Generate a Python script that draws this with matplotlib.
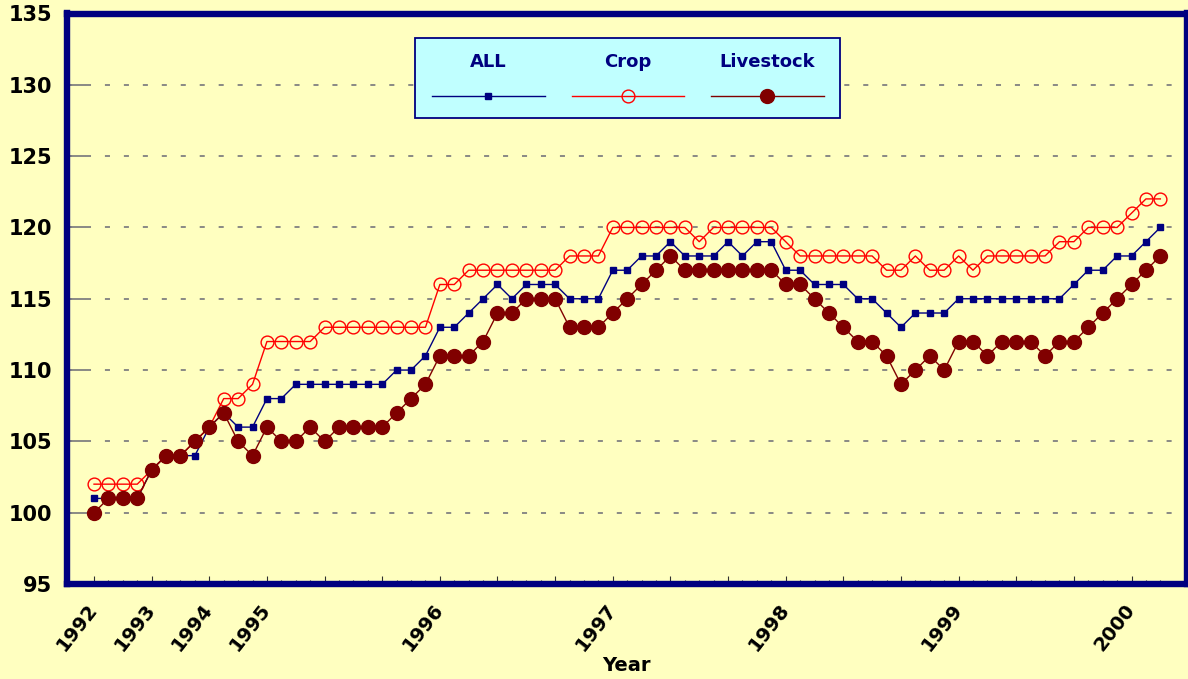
import matplotlib
matplotlib.use("Agg")
import matplotlib.pyplot as plt
from matplotlib.lines import Line2D
from matplotlib.patches import Rectangle

# index values (75 periods)
all_index = [
    101, 101, 101, 101, 103, 104, 104, 104, 106, 107, 106, 106, 108, 108, 109,
    109, 109, 109, 109, 109, 109, 110, 110, 111, 113, 113, 114, 115, 116, 115,
    116, 116, 116, 115, 115, 115, 117, 117, 118, 118, 119, 118, 118, 118, 119,
    118, 119, 119, 117, 117, 116, 116, 116, 115, 115, 114, 113, 114, 114, 114,
    115, 115, 115, 115, 115, 115, 115, 115, 116, 117, 117, 118, 118, 119, 120,
]
crop_index = [
    102, 102, 102, 102, 103, 104, 104, 105, 106, 108, 108, 109, 112, 112, 112,
    112, 113, 113, 113, 113, 113, 113, 113, 113, 116, 116, 117, 117, 117, 117,
    117, 117, 117, 118, 118, 118, 120, 120, 120, 120, 120, 120, 119, 120, 120,
    120, 120, 120, 119, 118, 118, 118, 118, 118, 118, 117, 117, 118, 117, 117,
    118, 117, 118, 118, 118, 118, 118, 119, 119, 120, 120, 120, 121, 122, 122,
]
livestock_index = [
    100, 101, 101, 101, 103, 104, 104, 105, 106, 107, 105, 104, 106, 105, 105,
    106, 105, 106, 106, 106, 106, 107, 108, 109, 111, 111, 111, 112, 114, 114,
    115, 115, 115, 113, 113, 113, 114, 115, 116, 117, 118, 117, 117, 117, 117,
    117, 117, 117, 116, 116, 115, 114, 113, 112, 112, 111, 109, 110, 111, 110,
    112, 112, 111, 112, 112, 112, 111, 112, 112, 113, 114, 115, 116, 117, 118,
]
year_labels = {0: "1992", 4: "1993", 8: "1994", 12: "1995", 24: "1996",
               36: "1997", 48: "1998", 60: "1999", 72: "2000"}
series_names = ["ALL", "Crop", "Livestock"]

bg = "#FFFFC0"
navy = "#000080"
red = "#FF0000"
maroon = "#800000"

plt.rcParams["font.family"] = "DejaVu Sans"
plt.rcParams["font.weight"] = "bold"

fig = plt.figure(figsize=(11.88, 6.79), dpi=100, facecolor=bg)
ax = fig.add_axes([66.5 / 1188, 1 - 584 / 679, (1187 - 66.5) / 1188, (584 - 13.5) / 679])
ax.set_facecolor(bg)

x = list(range(len(all_index)))

all_style = dict(color=navy, lw=1.0, marker="s", ms=4.8, mfc=navy, mec=navy)
crop_style = dict(color=red, lw=1.0, marker="o", ms=9.2, mfc="none", mec=red, mew=1.0)
live_style = dict(color=maroon, lw=1.0, marker="o", ms=10, mfc=maroon, mec=maroon)

ax.plot(x, all_index, zorder=3, **all_style)
ax.plot(x, crop_index, zorder=4, **crop_style)
ax.plot(x, livestock_index, zorder=5, **live_style)

ax.set_xlim(-1.91, 75.85)
ax.set_ylim(95, 135)
ax.set_yticks(range(95, 136, 5))

# horizontal dashed gridlines
for v in range(100, 135, 5):
    ax.axhline(v, color="#808080", lw=1.3, dashes=(2.8, 7.7), zorder=1)

major = list(range(0, 75, 4))
ax.set_xticks(major)
ax.set_xticklabels([year_labels.get(i, "") for i in major], rotation=52,
                   ha="right", va="center", rotation_mode="anchor", fontsize=14,
                   fontweight="bold")
ax.set_xticks(range(0, 75), minor=True)
ax.tick_params(axis="x", which="major", direction="in", length=6, width=0.8,
               color="#303030", pad=16)
ax.tick_params(axis="x", which="minor", direction="in", length=3, width=0.8,
               color="#303030")
ax.tick_params(axis="y", direction="in", length=14, width=1.3, color="#808080",
               labelsize=15, pad=10)
for lbl in ax.get_yticklabels():
    lbl.set_fontweight("bold")

for side in ["left", "top", "bottom", "right"]:
    ax.spines[side].set_color(navy)
    ax.spines[side].set_linewidth(4.6)
    ax.spines[side].set_zorder(6)

ax.set_xlabel("Year", fontsize=14, fontweight="bold")
ax.xaxis.set_label_coords(0.5, -0.126)

# legend: labels above the sample lines
ax.add_patch(Rectangle((0.311, 0.817), 0.379, 0.140, transform=ax.transAxes,
                       facecolor="#C0FFFF", edgecolor=navy, lw=1.3, zorder=7))
legend_styles = [all_style, crop_style, live_style]
centers = [0.3762, 0.5011, 0.6252]
for name, style, cx in zip(series_names, legend_styles, centers):
    ax.add_line(Line2D([cx - 0.0504, cx + 0.0504], [0.8554, 0.8554],
                       transform=ax.transAxes, color=style["color"], lw=1.0, zorder=8))
    st = dict(style)
    st.pop("lw")
    ax.add_line(Line2D([cx], [0.8554], transform=ax.transAxes, lw=0, zorder=9, **st))
    ax.text(cx, 0.915, name, transform=ax.transAxes, ha="center", va="center",
            fontsize=13, fontweight="bold", color=navy, zorder=9)

fig.savefig("out.png", dpi=100, facecolor=bg)
